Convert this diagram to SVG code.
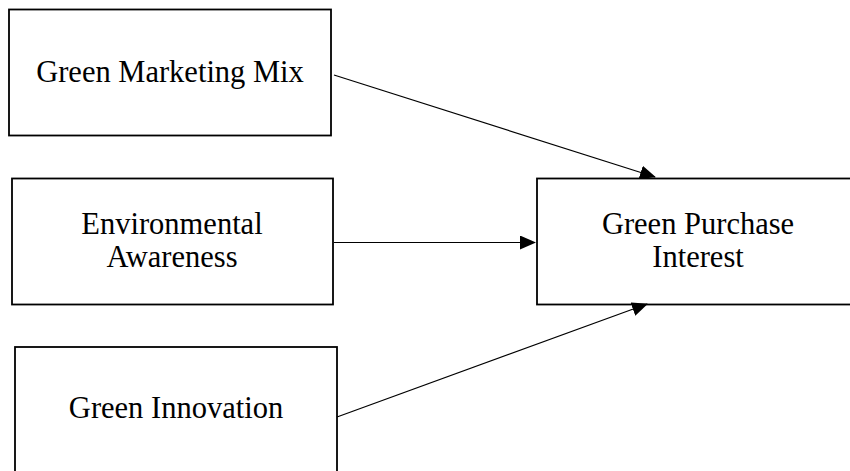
<svg xmlns="http://www.w3.org/2000/svg" width="850" height="471" viewBox="0 0 850 471">
<style>
.box{fill:#fff;stroke:#000;stroke-width:1.8}
.lbl{font-family:"Liberation Serif","DejaVu Serif",serif;font-size:30.5px;fill:#000;text-anchor:middle}
.conn{stroke:#000;stroke-width:1.2;fill:none}
</style>
<defs>
<marker id="ah" markerUnits="userSpaceOnUse" markerWidth="16" markerHeight="14" refX="15" refY="7" orient="auto">
<path d="M0,0 L16,7 L0,14 Z" fill="#000"/>
</marker>
</defs>
<rect width="850" height="471" fill="#fff"/>
<g id="node-gmm">
<rect class="box" x="9" y="9.5" width="322" height="126"/>
<text class="lbl" x="170" y="82">Green Marketing Mix</text>
</g>
<g id="node-ea">
<rect class="box" x="12" y="178.5" width="321" height="126"/>
<text class="lbl" x="172" y="234">Environmental</text>
<text class="lbl" x="172" y="267">Awareness</text>
</g>
<g id="node-gi">
<rect class="box" x="15" y="347" width="322" height="140"/>
<text class="lbl" x="176" y="418">Green Innovation</text>
</g>
<g id="node-gpi">
<rect class="box" x="537" y="178.5" width="323" height="126"/>
<text class="lbl" x="698" y="234">Green Purchase</text>
<text class="lbl" x="698" y="267">Interest</text>
</g>
<g id="connectors">
<line class="conn" x1="334" y1="75" x2="655" y2="177" marker-end="url(#ah)"/>
<line class="conn" x1="334" y1="242.5" x2="535" y2="242.5" marker-end="url(#ah)"/>
<line class="conn" x1="337" y1="417" x2="647" y2="304" marker-end="url(#ah)"/>
</g>
</svg>
